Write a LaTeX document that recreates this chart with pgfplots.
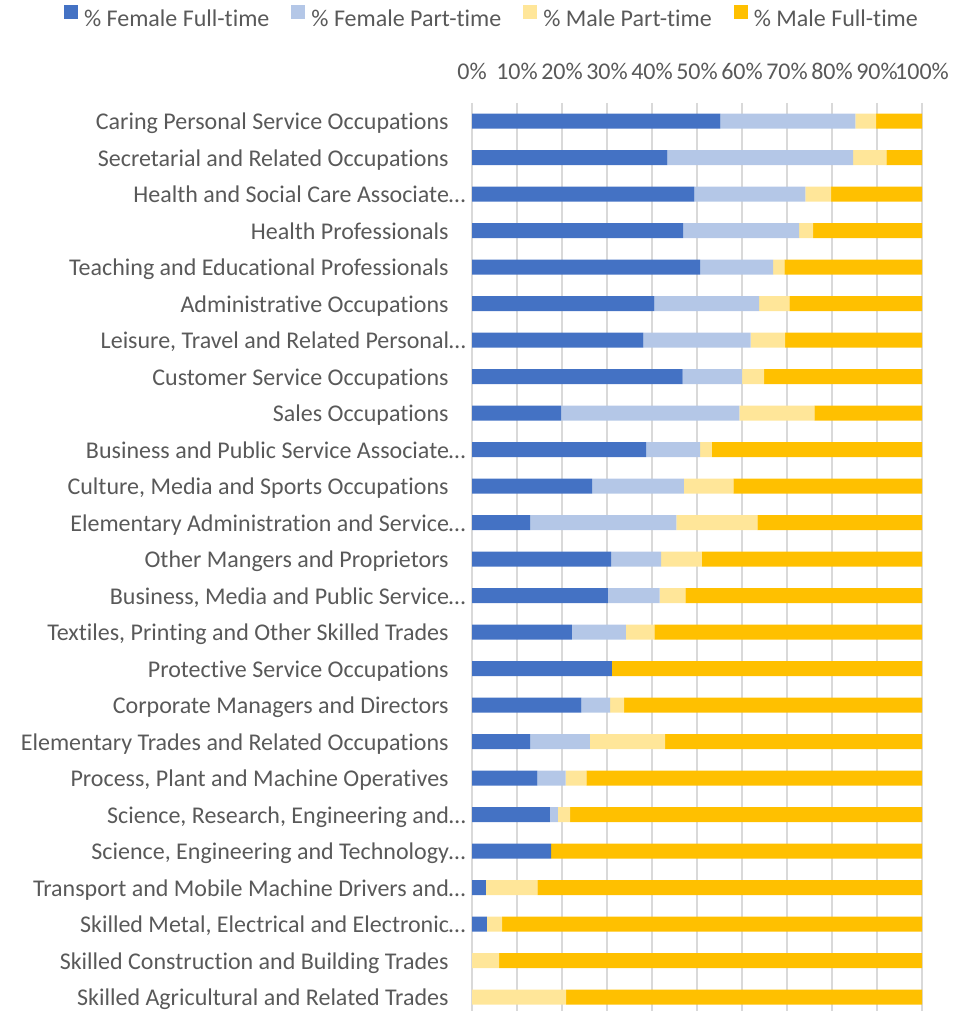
\documentclass[border=0pt]{standalone}
\usepackage{fontspec}
\setmainfont{Carlito}[Ligatures={NoCommon}]
\usepackage{pgfplots}
\pgfplotsset{compat=1.18}
\usepackage{pgfplotstable}

\definecolor{ffull}{HTML}{4472C4}
\definecolor{fpart}{HTML}{B4C7E7}
\definecolor{mpart}{HTML}{FFE699}
\definecolor{mfull}{HTML}{FFC000}
\definecolor{txtgray}{HTML}{595959}
\definecolor{gridgray}{HTML}{D9D9D9}

% shares in percent, top row first
\pgfplotstableread{
idx fft  fpt  mpt  mft
0   55.2 30.0 4.6  10.2
1   43.4 41.3 7.4  7.9
2   49.4 24.7 5.7  20.2
3   46.9 25.8 3.1  24.2
4   50.7 16.2 2.5  30.6
5   40.5 23.3 6.7  29.5
6   38.1 23.8 7.7  30.4
7   46.8 13.2 4.9  35.1
8   19.8 39.6 16.7 23.9
9   38.7 12.0 2.6  46.7
10  26.7 20.4 11.0 41.9
11  12.9 32.5 18.0 36.6
12  30.9 11.1 9.1  48.9
13  30.2 11.5 5.7  52.6
14  22.2 12.0 6.3  59.5
15  31.1 0    0    68.9
16  24.3 6.4  3.1  66.2
17  12.9 13.3 16.7 57.1
18  14.5 6.3  4.6  74.6
19  17.3 1.8  2.7  78.2
20  17.6 0    0    82.4
21  3.1  0    11.4 85.5
22  3.3  0    3.4  93.3
23  0    0    6.0  94.0
24  0    0    20.9 79.1
}\occ

\newcommand{\pad}{\hspace*{8.5pt}}

\begin{document}
\begin{tikzpicture}[font=\fontsize{12}{14}\selectfont]
\begin{axis}[
  at={(236pt,-51.375pt)}, anchor=north west,
  scale only axis, width=225pt, height=456.25pt,
  xbar stacked, bar width=7.5pt,
  xmin=0, xmax=100, ymin=-0.5, ymax=24.5, y dir=reverse,
  axis line style={draw=none},
  major tick length=0pt,
  xtick={0,10,...,100},
  xticklabels={0\%,10\%,20\%,30\%,40\%,50\%,60\%,70\%,80\%,90\%,100\%},
  xticklabel pos=upper,
  xticklabel style={anchor=base, yshift=11.4pt, inner sep=0pt},
  xmajorgrids, grid style={color=gridgray, line width=0.6pt},
  ytick={0,...,24},
  yticklabels={
    Caring Personal Service Occupations\pad,
    Secretarial and Related Occupations\pad,
    Health and Social Care Associate…,
    Health Professionals\pad,
    Teaching and Educational Professionals\pad,
    Administrative Occupations\pad,
    {Leisure, Travel and Related Personal…},
    Customer Service Occupations\pad,
    Sales Occupations\pad,
    Business and Public Service Associate…,
    {Culture, Media and Sports Occupations\pad},
    Elementary Administration and Service…,
    Other Mangers and Proprietors\pad,
    {Business, Media and Public Service…},
    {Textiles, Printing and Other Skilled Trades\pad},
    Protective Service Occupations\pad,
    Corporate Managers and Directors\pad,
    Elementary Trades and Related Occupations\pad,
    {Process, Plant and Machine Operatives\pad},
    {Science, Research, Engineering and…},
    {Science, Engineering and Technology…},
    Transport and Mobile Machine Drivers and…,
    {Skilled Metal, Electrical and Electronic…},
    Skilled Construction and Building Trades\pad,
    Skilled Agricultural and Related Trades\pad},
  yticklabel style={anchor=base east, inner sep=0pt, xshift=-3pt, yshift=-4.3pt},
  tick label style={text=txtgray},
  legend columns=4,
  legend style={draw=none, fill=none, at={(0.0422,1.0935)}, anchor=center,
    nodes={inner sep=0pt, text=txtgray},
    /tikz/every odd column/.append style={column sep=3pt},
    /tikz/every even column/.append style={column sep=11pt}},
  legend image code/.code={\fill[#1] (0pt,0.4pt) rectangle (7pt,7.4pt);},
]
\addplot[fill=ffull, draw=none] table[x=fft, y=idx] {\occ};
\addplot[fill=fpart, draw=none] table[x=fpt, y=idx] {\occ};
\addplot[fill=mpart, draw=none] table[x=mpt, y=idx] {\occ};
\addplot[fill=mfull, draw=none] table[x=mft, y=idx] {\occ};
\legend{\% Female Full-time, \% Female Part-time, \% Male Part-time, \% Male Full-time}
\end{axis}
\pgfresetboundingbox
\useasboundingbox (0,0) rectangle (486.5pt,-505.5pt);
\end{tikzpicture}
\end{document}
